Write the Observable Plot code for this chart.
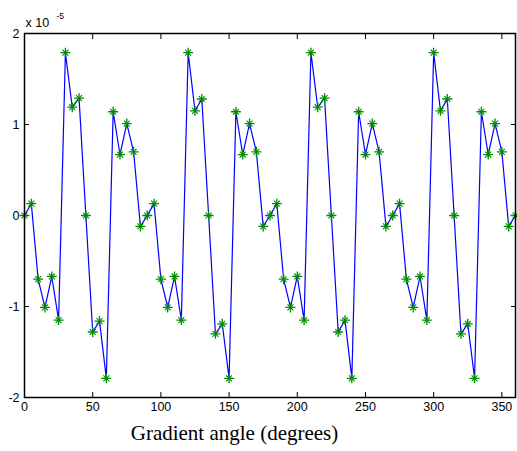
<!DOCTYPE html>
<html><head><meta charset="utf-8">
<script src="https://cdn.jsdelivr.net/npm/d3@7"></script>
<script src="https://cdn.jsdelivr.net/npm/@observablehq/plot@0.6"></script>
<style>body{margin:0;background:#fff}</style>
</head><body><div id="chart"></div>
<script>
const angles = [0,5,10,15,20,25,30,35,40,45,50,55,60,65,70,75,80,85,90,95,100,105,110,115,120,125,130,135,140,145,150,155,160,165,170,175,180,185,190,195,200,205,210,215,220,225,230,235,240,245,250,255,260,265,270,275,280,285,290,295,300,305,310,315,320,325,330,335,340,345,350,355,360];
// values in units of 1e-5
const values = [0,0.13,-0.70,-1.01,-0.67,-1.15,1.79,1.19,1.29,0,-1.28,-1.16,-1.79,1.14,0.67,1.01,0.70,-0.12,
  0,0.13,-0.70,-1.01,-0.67,-1.15,1.79,1.15,1.28,0,-1.30,-1.19,-1.79,1.14,0.67,1.01,0.70,-0.12,
  0,0.13,-0.70,-1.01,-0.67,-1.15,1.79,1.19,1.29,0,-1.28,-1.15,-1.79,1.14,0.67,1.01,0.70,-0.12,
  0,0.13,-0.70,-1.01,-0.67,-1.15,1.79,1.15,1.28,0,-1.30,-1.19,-1.79,1.14,0.67,1.01,0.70,-0.12,0];
const xTicks = [0,50,100,150,200,250,300,350];
const yTicks = [-2,-1,0,1,2];
const xLabel = "Gradient angle (degrees)";
const exponentBase = "x 10";
const exponent = "-5";

const data = angles.map((a, i) => ({angle: a, value: values[i]}));
const green = "#008a00";

const chart = Plot.plot({
  width: 517, height: 451,
  marginLeft: 24, marginRight: 2, marginTop: 33, marginBottom: 54,
  style: {fontFamily: "'Liberation Sans', Arial, sans-serif", fontSize: "12px", color: "black", background: "white"},
  x: {domain: [0, 360]},
  y: {domain: [-2, 2]},
  marks: [
    Plot.axisX(xTicks, {anchor: "bottom", tickSize: -5, tickPadding: 10, label: null, fontSize: 12.5}),
    Plot.axisX(xTicks, {anchor: "top", tickSize: -5, text: null, label: null}),
    Plot.axisY(yTicks, {anchor: "left", tickSize: -5, tickPadding: 10, label: null, fontSize: 12.5, tickFormat: d => String(d)}),
    Plot.axisY(yTicks, {anchor: "right", tickSize: -5, text: null, label: null}),
    Plot.line(data, {x: "angle", y: "value", stroke: "#0000ff", strokeWidth: 1.2}),
    Plot.dot(data, {x: "angle", y: "value", symbol: "plus", r: 3.3, stroke: green, strokeWidth: 1.3}),
    Plot.dot(data, {x: "angle", y: "value", symbol: "times", r: 2.8, stroke: green, strokeWidth: 1.1}),
    Plot.frame({stroke: "black", strokeWidth: 1.5}),
    Plot.text([xLabel], {frameAnchor: "bottom-left", dx: 210, dy: 42, textAnchor: "middle", fontSize: 21, fontFamily: "'Liberation Serif', 'Times New Roman', serif"}),
    Plot.text([exponentBase], {frameAnchor: "top-left", dx: 1, dy: -15, textAnchor: "start", fontSize: 12.5}),
    Plot.text([exponent], {frameAnchor: "top-left", dx: 32, dy: -21, textAnchor: "start", fontSize: 8.5})
  ]
});
document.getElementById("chart").appendChild(chart);
</script>
</body></html>
